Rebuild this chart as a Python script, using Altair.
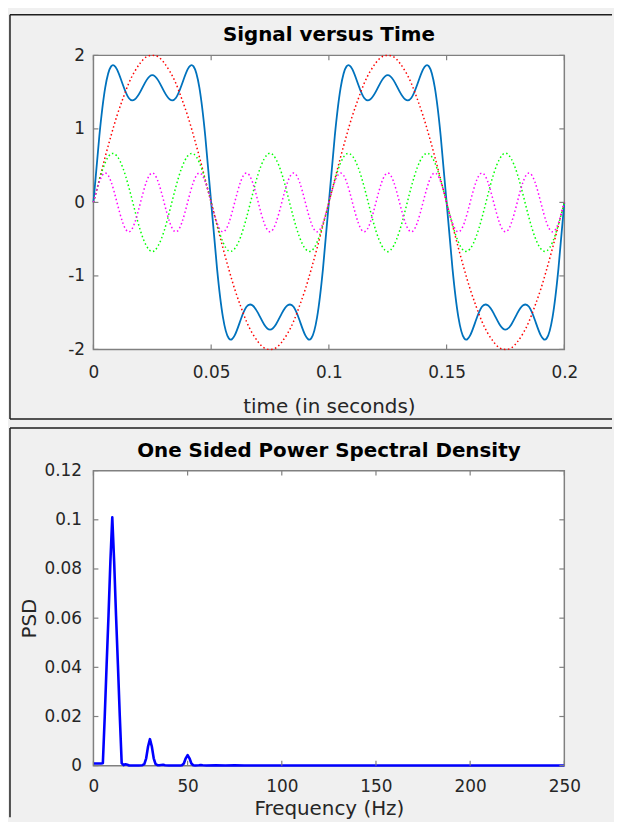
import altair as alt
import pandas as pd

# ---------------- data ----------------
top_title = "Signal versus Time"
bottom_title = "One Sided Power Spectral Density"

time_s = [0.0, 0.0025, 0.005, 0.0075, 0.01, 0.0125, 0.015, 0.0175, 0.02, 0.0225,
          0.025, 0.0275, 0.03, 0.0325, 0.035, 0.0375, 0.04, 0.0425, 0.045, 0.0475,
          0.05, 0.0525, 0.055, 0.0575, 0.06, 0.0625, 0.065, 0.0675, 0.07, 0.0725,
          0.075, 0.0775, 0.08, 0.0825, 0.085, 0.0875, 0.09, 0.0925, 0.095, 0.0975,
          0.1, 0.1025, 0.105, 0.1075, 0.11, 0.1125, 0.115, 0.1175, 0.12, 0.1225,
          0.125, 0.1275, 0.13, 0.1325, 0.135, 0.1375, 0.14, 0.1425, 0.145, 0.1475,
          0.15, 0.1525, 0.155, 0.1575, 0.16, 0.1625, 0.165, 0.1675, 0.17, 0.1725,
          0.175, 0.1775, 0.18, 0.1825, 0.185, 0.1875, 0.19, 0.1925, 0.195, 0.1975,
          0.2]

sig_10hz = [0, 0.31, 0.62, 0.91, 1.18, 1.41, 1.62, 1.78, 1.90, 1.98,
            2.00, 1.98, 1.90, 1.78, 1.62, 1.41, 1.18, 0.91, 0.62, 0.31,
            0, -0.31, -0.62, -0.91, -1.18, -1.41, -1.62, -1.78, -1.90, -1.98,
            -2.00, -1.98, -1.90, -1.78, -1.62, -1.41, -1.18, -0.91, -0.62, -0.31,
            0, 0.31, 0.62, 0.91, 1.18, 1.41, 1.62, 1.78, 1.90, 1.98,
            2.00, 1.98, 1.90, 1.78, 1.62, 1.41, 1.18, 0.91, 0.62, 0.31,
            0, -0.31, -0.62, -0.91, -1.18, -1.41, -1.62, -1.78, -1.90, -1.98,
            -2.00, -1.98, -1.90, -1.78, -1.62, -1.41, -1.18, -0.91, -0.62, -0.31,
            0]

sig_30hz = [0, 0.30, 0.54, 0.66, 0.63, 0.47, 0.21, -0.10, -0.39, -0.59,
            -0.67, -0.59, -0.39, -0.10, 0.21, 0.47, 0.63, 0.66, 0.54, 0.30,
            0, -0.30, -0.54, -0.66, -0.63, -0.47, -0.21, 0.10, 0.39, 0.59,
            0.67, 0.59, 0.39, 0.10, -0.21, -0.47, -0.63, -0.66, -0.54, -0.30,
            0, 0.30, 0.54, 0.66, 0.63, 0.47, 0.21, -0.10, -0.39, -0.59,
            -0.67, -0.59, -0.39, -0.10, 0.21, 0.47, 0.63, 0.66, 0.54, 0.30,
            0, -0.30, -0.54, -0.66, -0.63, -0.47, -0.21, 0.10, 0.39, 0.59,
            0.67, 0.59, 0.39, 0.10, -0.21, -0.47, -0.63, -0.66, -0.54, -0.30,
            0]

sig_50hz = [0, 0.28, 0.40, 0.28, 0, -0.28, -0.40, -0.28,
            0, 0.28, 0.40, 0.28, 0, -0.28, -0.40, -0.28,
            0, 0.28, 0.40, 0.28, 0, -0.28, -0.40, -0.28,
            0, 0.28, 0.40, 0.28, 0, -0.28, -0.40, -0.28,
            0, 0.28, 0.40, 0.28, 0, -0.28, -0.40, -0.28,
            0, 0.28, 0.40, 0.28, 0, -0.28, -0.40, -0.28,
            0, 0.28, 0.40, 0.28, 0, -0.28, -0.40, -0.28,
            0, 0.28, 0.40, 0.28, 0, -0.28, -0.40, -0.28,
            0, 0.28, 0.40, 0.28, 0, -0.28, -0.40, -0.28,
            0, 0.28, 0.40, 0.28, 0, -0.28, -0.40, -0.28,
            0]

sig_sum = [0, 0.90, 1.56, 1.85, 1.81, 1.60, 1.42, 1.40, 1.51, 1.66,
           1.73, 1.66, 1.51, 1.40, 1.42, 1.60, 1.81, 1.85, 1.56, 0.90,
           0, -0.90, -1.56, -1.85, -1.81, -1.60, -1.42, -1.40, -1.51, -1.66,
           -1.73, -1.66, -1.51, -1.40, -1.42, -1.60, -1.81, -1.85, -1.56, -0.90,
           0, 0.90, 1.56, 1.85, 1.81, 1.60, 1.42, 1.40, 1.51, 1.66,
           1.73, 1.66, 1.51, 1.40, 1.42, 1.60, 1.81, 1.85, 1.56, 0.90,
           0, -0.90, -1.56, -1.85, -1.81, -1.60, -1.42, -1.40, -1.51, -1.66,
           -1.73, -1.66, -1.51, -1.40, -1.42, -1.60, -1.81, -1.85, -1.56, -0.90,
           0]

x_ticks_top = [0, 0.05, 0.1, 0.15, 0.2]
y_ticks_top = [-2, -1, 0, 1, 2]

freq_hz = [0, 1, 2, 3, 4, 5, 6, 7, 8, 9, 10, 11, 12, 13, 14, 15, 16, 17, 18, 19,
           20, 22, 24, 26, 27, 28, 29, 30, 31, 32, 33, 34, 35, 36, 37, 38, 40, 42,
           44, 46, 47, 48, 49, 50, 51, 52, 53, 54, 56, 57, 58, 60, 65, 70, 75, 80,
           90, 100, 125, 150, 175, 200, 225, 250]
psd = [0.0009, 0.0009, 0.0009, 0.0009, 0.0009, 0.001, 0.02, 0.041, 0.061, 0.083,
       0.101, 0.083, 0.061, 0.041, 0.02, 0.001, 0.0002, 0.0006, 0.0004, 0.0001,
       0.0001, 0.0001, 0.0001, 0.0002, 0.0006, 0.003, 0.0078, 0.0108, 0.0078, 0.003,
       0.0006, 0.0002, 0.0002, 0.0003, 0.0004, 0.0002, 0.0001, 0.0001,
       0.0001, 0.0001, 0.0002, 0.0009, 0.003, 0.0043, 0.003, 0.0009, 0.0002, 0.0001,
       0.0002, 0.0003, 0.0002, 0.0001, 0.0002, 0.0001, 0.0002, 0.0001,
       0.00005, 0.00005, 0.00005, 0.00005, 0.00005, 0.00005, 0.00005, 0.00005]

x_ticks_bot = [0, 50, 100, 150, 200, 250]
y_ticks_bot = [0, 0.02, 0.04, 0.06, 0.08, 0.1, 0.12]

# ---------------- styling ----------------
FONT = "DejaVu Sans"
TXT = "#262626"
BOXC = "#808080"
FRAMEC = "#1e1e1e"
W1, H1 = 474, 296
W2, H2 = 474, 297
FL = -84          # frame left, relative to plot area
FR = 522          # frame right end, relative to plot area
TICK = 5


def make_axis(values, title, fmt, label_pad, title_pad, minus_fix=False):
    kw = dict(values=values, title=title, format=fmt, grid=False, domain=False,
              ticks=False, tickSize=0, labelPadding=label_pad, labelFont=FONT,
              labelFontSize=17, labelColor=TXT, labelFlush=False, labelOverlap=False,
              titleFont=FONT, titleFontSize=20, titleFontWeight="normal",
              titleColor=TXT, titlePadding=title_pad)
    if minus_fix:
        kw["labelExpr"] = "replace(datum.label, '\u2212', '-')"
    return alt.Axis(**kw)


def inner_ticks(xvals, yvals, xscale, yscale, xaxis, yaxis, W, H):
    xdf = pd.DataFrame({"xv": xvals})
    ydf = pd.DataFrame({"yv": yvals})
    rule = dict(color=BOXC, strokeWidth=1.2)
    xb = alt.Chart(xdf).mark_rule(**rule).encode(
        x=alt.X("xv:Q", scale=xscale, axis=xaxis), y=alt.value(H), y2=alt.value(H - TICK))
    xt = alt.Chart(xdf).mark_rule(**rule).encode(
        x=alt.X("xv:Q", scale=xscale, axis=xaxis), y=alt.value(0), y2=alt.value(TICK))
    yl = alt.Chart(ydf).mark_rule(**rule).encode(
        y=alt.Y("yv:Q", scale=yscale, axis=yaxis), x=alt.value(0), x2=alt.value(TICK))
    yr = alt.Chart(ydf).mark_rule(**rule).encode(
        y=alt.Y("yv:Q", scale=yscale, axis=yaxis), x=alt.value(W - TICK), x2=alt.value(W))
    return [xb, xt, yl, yr]


def panel_frame(left, top, right, bottom, closed=True):
    one = pd.DataFrame({"k": [0]})
    st = dict(color=FRAMEC, strokeWidth=1.5)
    parts = [
        alt.Chart(one).mark_rule(**st).encode(x=alt.value(left), y=alt.value(top), y2=alt.value(bottom)),
        alt.Chart(one).mark_rule(**st).encode(x=alt.value(left), x2=alt.value(right), y=alt.value(top)),
    ]
    if closed:
        parts.append(alt.Chart(one).mark_rule(**st).encode(
            x=alt.value(left), x2=alt.value(right), y=alt.value(bottom)))
    return parts


def title_text(txt, W):
    return alt.Chart(pd.DataFrame({"title": [txt]})).mark_text(
        font=FONT, fontSize=20, fontWeight="bold", color="#000000",
        align="center", baseline="middle").encode(
        x=alt.value(W / 2), y=alt.value(-20), text="title:N")


# ---------------- top panel ----------------
top_df = pd.DataFrame({"t": time_s, "s10": sig_10hz, "s30": sig_30hz,
                       "s50": sig_50hz, "sig": sig_sum})
xs1 = alt.Scale(domain=[0, 0.2], nice=False, zero=False)
ys1 = alt.Scale(domain=[-2, 2], nice=False, zero=False)
xa1 = make_axis(x_ticks_top, "time (in seconds)", "~g", 15, 16)
ya1 = make_axis(y_ticks_top, None, "~g", 9, 4, minus_fix=True)


def sig_line(field, color, dotted):
    kw = dict(color=color, interpolate="natural")
    if dotted:
        kw.update(strokeWidth=1.5, strokeDash=[1.5, 2.6])
    else:
        kw.update(strokeWidth=1.8)
    return alt.Chart(top_df).mark_line(**kw).encode(
        x=alt.X("t:Q", scale=xs1, axis=xa1),
        y=alt.Y(f"{field}:Q", scale=ys1, axis=ya1),
    )


top = alt.layer(
    sig_line("sig", "#0072BD", False),
    sig_line("s10", "#ff0000", True),
    sig_line("s30", "#00ff00", True),
    sig_line("s50", "#ff00ff", True),
    *inner_ticks(x_ticks_top, y_ticks_top, xs1, ys1, xa1, ya1, W1, H1),
    *panel_frame(FL, -41, FR, H1 + 70),
    title_text(top_title, W1),
).properties(width=W1, height=H1)

# ---------------- bottom panel ----------------
bot_df = pd.DataFrame({"f": freq_hz, "p": psd})
xs2 = alt.Scale(domain=[0, 250], nice=False, zero=False)
ys2 = alt.Scale(domain=[0, 0.12], nice=False, zero=False)
xa2 = make_axis(x_ticks_bot, "Frequency (Hz)", "d", 13, 4)
ya2 = make_axis(y_ticks_bot, "PSD", ".2~f", 12, 4)

psd_line = alt.Chart(bot_df).mark_line(color="#0000ff", strokeWidth=2.6, strokeJoin="round").encode(
    x=alt.X("f:Q", scale=xs2, axis=xa2),
    y=alt.Y("p:Q", scale=ys2, axis=ya2),
)

bottom = alt.layer(
    psd_line,
    *inner_ticks(x_ticks_bot, y_ticks_bot, xs2, ys2, xa2, ya2, W2, H2),
    *panel_frame(FL, -43, FR, H2 + 52, closed=False),
    title_text(bottom_title, W2),
).properties(width=W2, height=H2)

chart = alt.vconcat(top, bottom, spacing=5).configure(
    background="#f0f0f0",
    padding={"left": 0, "top": 2, "right": 0, "bottom": 0},
).configure_view(fill="white", stroke=BOXC, strokeWidth=1.5)

chart.save("out.html", embed_options={"renderer": "svg", "actions": False})
